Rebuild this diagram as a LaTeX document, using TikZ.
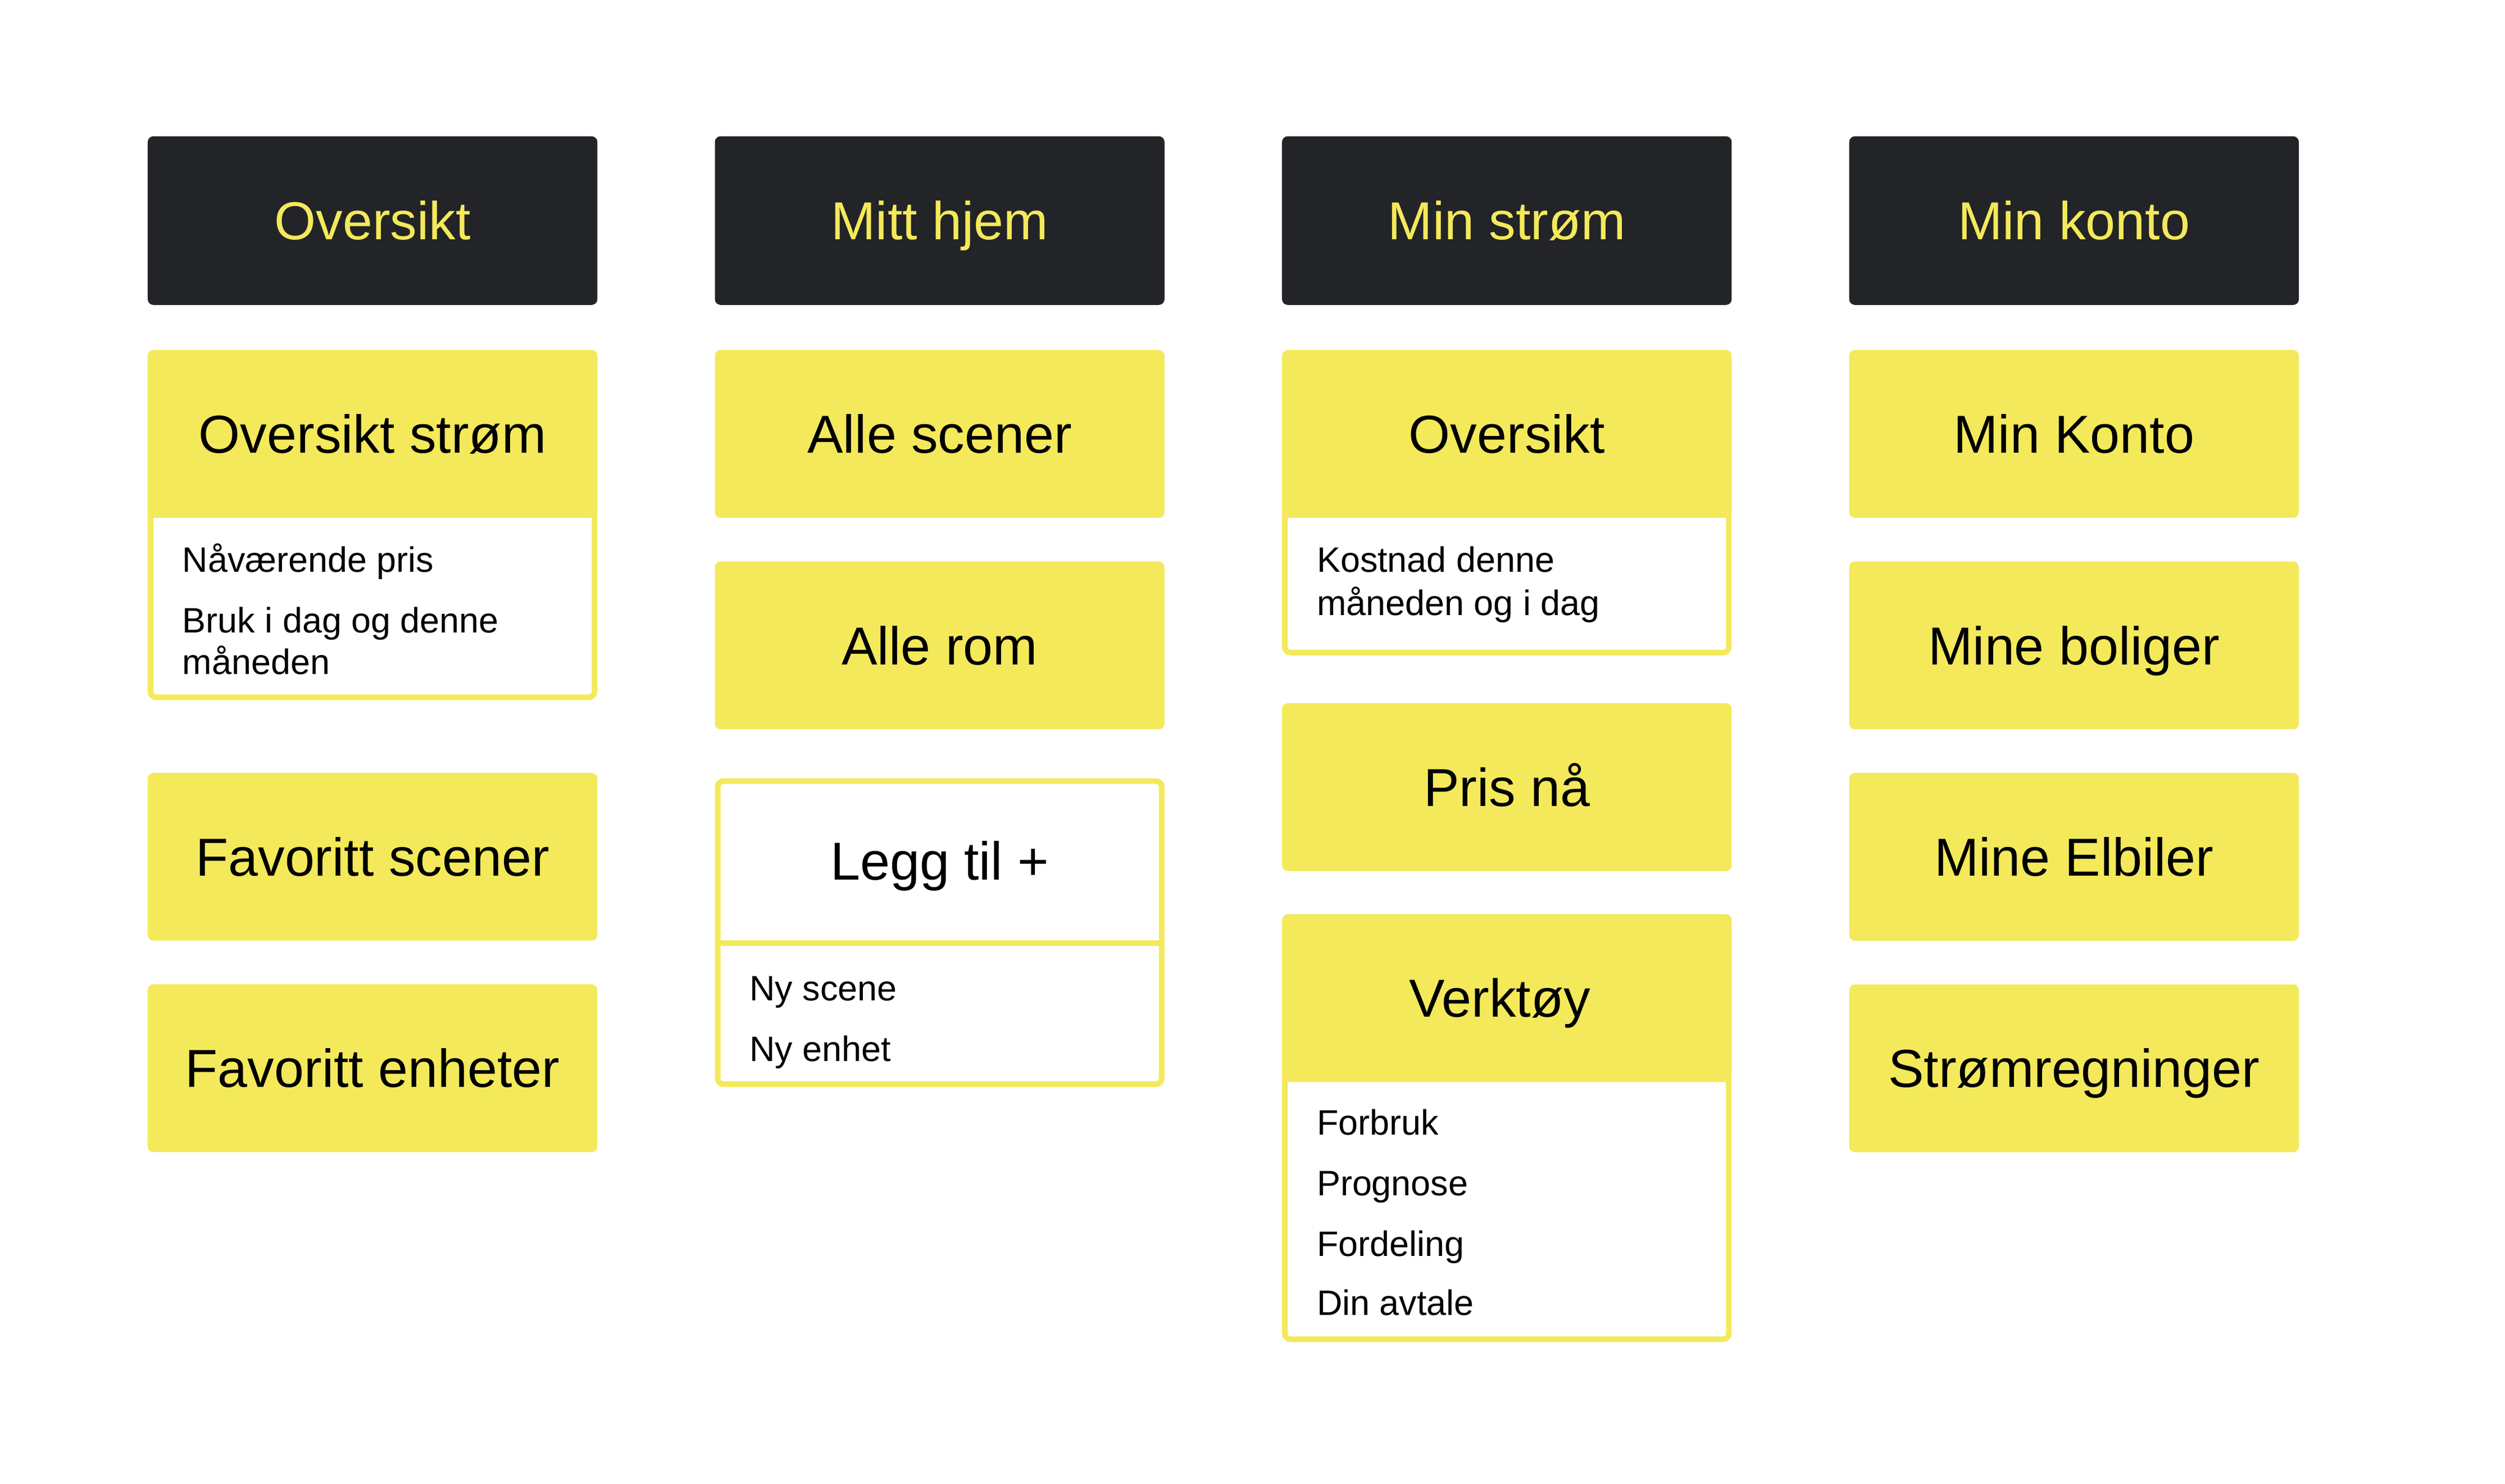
\documentclass[tikz,border=0pt]{standalone}
\usepackage{fontspec}
\setmainfont{Liberation Sans}
\definecolor{darkbg}{HTML}{222428}
\definecolor{ylw}{HTML}{F4E95A}
\begin{document}
\begin{tikzpicture}[x=1pt,y=-1pt,
  hdr/.style={fill=darkbg, text=ylw, rounded corners=3.5pt, minimum width=280pt, minimum height=105pt,
    inner sep=0pt, outer sep=0pt, font=\fontsize{33.3}{40}\selectfont, text height=23.8pt, text depth=0pt},
  ybox/.style={fill=ylw, text=black, rounded corners=3.5pt, minimum width=280pt, minimum height=104.5pt,
    inner sep=0pt, outer sep=0pt, font=\fontsize{33.3}{40}\selectfont, text height=23.8pt, text depth=0pt},
  frame/.style={fill=white, draw=ylw, line width=3.5pt, rounded corners=3.5pt, minimum width=276.5pt,
    inner sep=0pt, outer sep=0pt},
  ttl/.style={inner sep=0pt, font=\fontsize{33.3}{40}\selectfont, text height=23.8pt, text depth=0pt},
  item/.style={inner sep=0pt, anchor=base west, font=\fontsize{22}{26}\selectfont}
]
\useasboundingbox (0,0) rectangle (1560,924);
% headers
\node[hdr] (h1) at (232,137.4) {Oversikt};
\node[hdr] (h2) at (585.2,137.4) {Mitt hjem};
\node[hdr] (h3) at (938.4,137.4) {Min strøm};
\node[hdr] (h4) at (1291.6,137.4) {Min konto};

% column 1
\node[frame, minimum height=214.5pt] (f1) at (232,327) {};
\node[ybox] (c1a) at (232,270.25) {Oversikt strøm};
\node[item] (c1a1) at (113.5,356.4) {Nåværende pris};
\node[item] (c1a2) at (113.5,394.2) {Bruk i dag og denne};
\node[item] (c1a3) at (113.5,420.1) {måneden};
\node[ybox] (c1b) at (232,533.65) {Favoritt scener};
\node[ybox] (c1c) at (232,665.35) {Favoritt enheter};

% column 2
\node[ybox] (c2a) at (585.2,270.25) {Alle scener};
\node[ybox] (c2b) at (585.2,402) {Alle rom};
\node[frame, minimum height=188.7pt] (f2) at (585.2,580.9) {};
\node[ttl] (c2c) at (585.2,536) {Legg til +};
\coordinate (s2l) at (447,587.3);
\coordinate (s2r) at (723.4,587.3);
\draw[ylw, line width=3.5pt] (s2l) -- (s2r);
\node[item] (c2c1) at (466.7,623.2) {Ny scene};
\node[item] (c2c2) at (466.7,661) {Ny enhet};

% column 3
\node[frame, minimum height=186.7pt] (f3) at (938.4,313.1) {};
\node[ybox] (c3a) at (938.4,270.25) {Oversikt};
\node[item] (c3a1) at (819.9,356.4) {Kostnad denne};
\node[item] (c3a2) at (819.9,383.3) {måneden og i dag};
\node[ybox] (c3b) at (938.4,490.25) {Pris nå};
\node[frame, minimum height=263pt] (f4) at (938.4,702.65) {};
\node[ybox] (c3c) at (938.4,621.65) {};
\node[ttl] (c3ct) at (934,621.65) {Verktøy};
\node[item] (c3c1) at (819.9,706.8) {Forbruk};
\node[item] (c3c2) at (819.9,744.6) {Prognose};
\node[item] (c3c3) at (819.9,782.5) {Fordeling};
\node[item] (c3c4) at (819.9,819.3) {Din avtale};

% column 4
\node[ybox] (c4a) at (1291.6,270.25) {Min Konto};
\node[ybox] (c4b) at (1291.6,402) {Mine boliger};
\node[ybox] (c4c) at (1291.6,533.7) {Mine Elbiler};
\node[ybox] (c4d) at (1291.6,665.4) {Strømregninger};
\end{tikzpicture}
\end{document}
